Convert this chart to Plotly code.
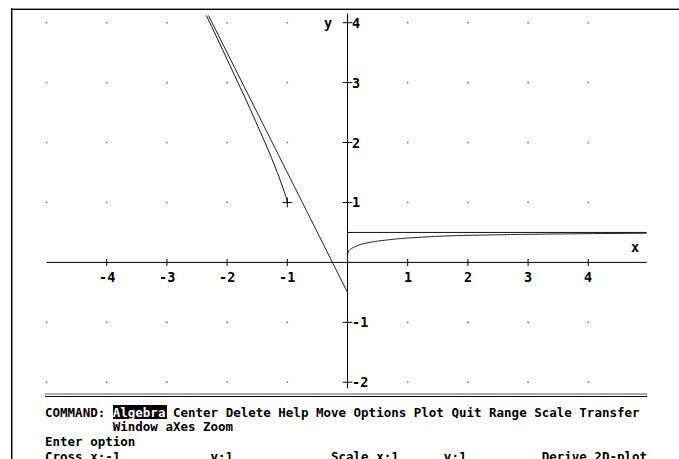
import plotly.graph_objects as go

W, H = 679, 459

# ---- data ----
grid_x = [-5, -4, -3, -2, -1, 1, 2, 3, 4]
grid_y = [-2, -1, 1, 2, 3, 4]
x_ticks = [-4, -3, -2, -1, 1, 2, 3, 4]
x_tick_labels = ["-4", "-3", "-2", "-1", "1", "2", "3", "4"]
y_ticks = [-2, -1, 1, 2, 3, 4]
y_tick_labels = ["-2", "-1", "1", "2", "3", "4"]

line_x = [-2.31, 0.0]
line_y = [4.12, -0.5]

left_curve_x = [-2.345, -2.075, -1.82, -1.68, -1.525, -1.37, -1.265, -1.165, -1.075, -1.025, -1.01, -1.0]
left_curve_y = [4.12, 3.55, 3.0, 2.7, 2.35, 2.0, 1.75, 1.5, 1.25, 1.1, 1.05, 1.0]

asym_x = [0.0, 4.97]
asym_y = [0.5, 0.5]

right_curve_x = [0.0, 0.004, 0.02, 0.07, 0.22, 0.43, 0.85, 1.35, 1.8, 2.75, 3.8, 4.97]
right_curve_y = [0.06, 0.14, 0.19, 0.235, 0.30, 0.345, 0.395, 0.428, 0.447, 0.465, 0.478, 0.487]

cross_x = [-1]
cross_y = [1]

x_axis_span = [-5, 4.97]
y_axis_span = [-2.1, 4.15]

cmd_line = "COMMAND: Algebra Center Delete Help Move Options Plot Quit Range Scale Transfer"
cmd_line2 = "         Window aXes Zoom"
prompt_line = "Enter option"
status_line = ("Cross x:-1".ljust(22) + "y:1".ljust(16) + "Scale x:1".ljust(15)
               + "y:1".ljust(13) + "Derive 2D-plot")

# ---- scale (pixel mapping of the original screen) ----
X0PX, XUNIT = 347.5, 60.2
Y0PX, YUNIT = 262.4, 59.93
xr = [-X0PX / XUNIT, (W - X0PX) / XUNIT]
yr = [-(H - Y0PX) / YUNIT, Y0PX / YUNIT]

FONT = "DejaVu Sans Mono"
FS = 12.5

def px(xp):
    return xp / W

def py(yp):
    return 1 - yp / H

fig = go.Figure()

# grid dots
gx = [x for y in grid_y for x in grid_x]
gy = [y for y in grid_y for x in grid_x]
fig.add_trace(go.Scatter(x=gx, y=gy, mode="markers",
                         marker=dict(symbol="square", size=1.6, color="#777777", line=dict(width=0)),
                         hoverinfo="skip"))

# axes lines
fig.add_trace(go.Scatter(x=x_axis_span, y=[0, 0], mode="lines",
                         line=dict(color="black", width=1), hoverinfo="skip"))
fig.add_trace(go.Scatter(x=[0, 0], y=y_axis_span, mode="lines",
                         line=dict(color="black", width=1), hoverinfo="skip"))
# tick marks
fig.add_trace(go.Scatter(x=x_ticks, y=[0] * len(x_ticks), mode="markers",
                         marker=dict(symbol="line-ns", size=5, line=dict(color="black", width=1)),
                         hoverinfo="skip"))
fig.add_trace(go.Scatter(x=[0] * len(y_ticks), y=y_ticks, mode="markers",
                         marker=dict(symbol="line-ew", size=7, line=dict(color="black", width=1)),
                         hoverinfo="skip"))

# curves
fig.add_trace(go.Scatter(x=line_x, y=line_y, mode="lines",
                         line=dict(color="#222222", width=1), hoverinfo="skip"))
fig.add_trace(go.Scatter(x=left_curve_x, y=left_curve_y, mode="lines",
                         line=dict(color="#111111", width=1, shape="spline", smoothing=1.0),
                         hoverinfo="skip"))
fig.add_trace(go.Scatter(x=asym_x, y=asym_y, mode="lines",
                         line=dict(color="#111111", width=1), hoverinfo="skip"))
fig.add_trace(go.Scatter(x=right_curve_x, y=right_curve_y, mode="lines",
                         line=dict(color="#222222", width=1, shape="spline", smoothing=0.6),
                         hoverinfo="skip"))
fig.add_trace(go.Scatter(x=cross_x, y=cross_y, mode="markers",
                         marker=dict(symbol="cross-thin", size=7, line=dict(color="black", width=1)),
                         hoverinfo="skip"))

annotations = []
tfont = dict(family=FONT, size=FS, color="black", weight="bold")
lfont = dict(family=FONT, size=13.5, color="black", weight="bold")
for xv, lab in zip(x_ticks, x_tick_labels):
    annotations.append(dict(x=xv, y=0, xref="x", yref="y", text=lab,
                            showarrow=False, xanchor="center", yanchor="middle",
                            yshift=-15, font=lfont))
for yv, lab in zip(y_ticks, y_tick_labels):
    annotations.append(dict(x=0, y=yv, xref="x", yref="y", text=lab, showarrow=False,
                            xanchor="left", yanchor="middle", xshift=2, font=lfont))
annotations.append(dict(x=px(328), y=py(23), xref="paper", yref="paper", text="y",
                        showarrow=False, xanchor="center", yanchor="middle", font=lfont))
annotations.append(dict(x=px(635), y=py(247), xref="paper", yref="paper", text="x",
                        showarrow=False, xanchor="center", yanchor="middle", font=lfont))

def nb(s):
    return s.replace(" ", "\u00a0")

cmd_html = nb(cmd_line).replace("Algebra", "<span style='color:white'>Algebra</span>")
for txt, yp in [(cmd_html, 412), (nb(cmd_line2), 426.5), (nb(prompt_line), 441), (nb(status_line), 456)]:
    annotations.append(dict(x=px(43), y=py(yp), xref="paper", yref="paper", text=txt,
                            showarrow=False, xanchor="left", yanchor="middle", font=tfont))

shapes = [
    # top border (gray + black rows)
    dict(type="line", xref="paper", yref="paper", x0=px(11), x1=1, y0=py(8.5), y1=py(8.5),
         line=dict(color="#9a9a9a", width=1)),
    dict(type="line", xref="paper", yref="paper", x0=px(11), x1=1, y0=py(9.5), y1=py(9.5),
         line=dict(color="black", width=1)),
    # left border
    dict(type="line", xref="paper", yref="paper", x0=px(11.7), x1=px(11.7), y0=py(8), y1=0,
         line=dict(color="black", width=1.5)),
    # separator double line
    dict(type="line", xref="paper", yref="paper", x0=px(45), x1=px(647), y0=py(394), y1=py(394),
         line=dict(color="#555555", width=1)),
    dict(type="line", xref="paper", yref="paper", x0=px(45), x1=px(647), y0=py(396.5), y1=py(396.5),
         line=dict(color="black", width=1)),
    # highlight box behind "Algebra"
    dict(type="rect", xref="paper", yref="paper", x0=px(113), x1=px(167), y0=py(419), y1=py(405),
         fillcolor="black", line=dict(width=0), layer="above"),
]

fig.update_layout(
    width=W, height=H,
    margin=dict(l=0, r=0, t=0, b=0),
    paper_bgcolor="white", plot_bgcolor="white",
    showlegend=False,
    xaxis=dict(range=xr, visible=False, fixedrange=True),
    yaxis=dict(range=yr, visible=False, fixedrange=True),
    annotations=annotations,
    shapes=shapes,
)

fig.write_html("out.html", config={"displayModeBar": False},
               post_script="document.body.style.margin='0';")
